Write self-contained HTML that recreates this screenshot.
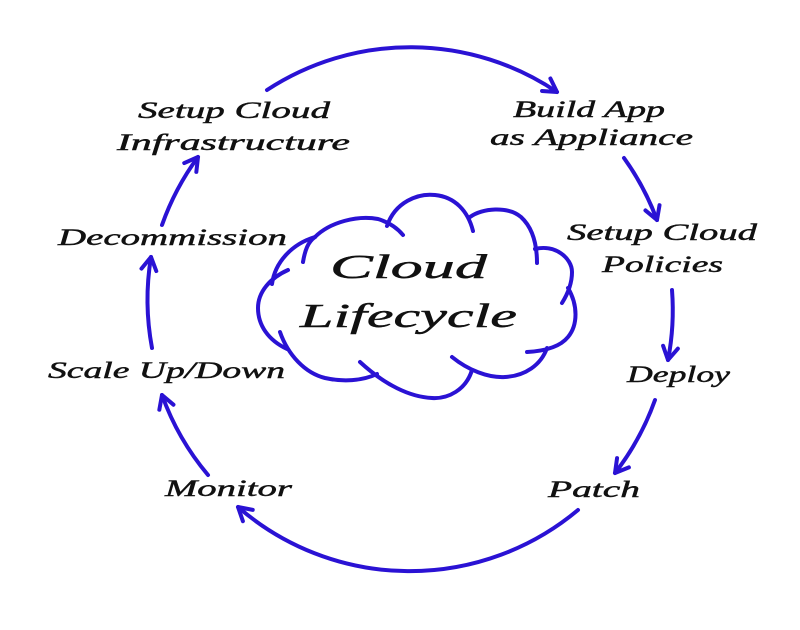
<!DOCTYPE html>
<html>
<head>
<meta charset="utf-8">
<style>
  html, body { margin: 0; padding: 0; background: #ffffff; }
  svg { display: block; }
  text { font-family: "Liberation Serif", "DejaVu Serif", serif; font-style: italic; fill: #111; stroke: #111; stroke-width: 0.45px; }
</style>
</head>
<body>
<svg width="800" height="630" viewBox="0 0 800 630" xmlns="http://www.w3.org/2000/svg">
  <defs>
    <marker id="ah" markerUnits="userSpaceOnUse" markerWidth="30" markerHeight="30" refX="0" refY="0" viewBox="-20 -15 30 30" orient="auto" overflow="visible">
      <path d="M-13,-7.5 L0,0 L-13,7.5" fill="none" stroke="#2a12d4" stroke-width="4" stroke-linecap="round" stroke-linejoin="round"/>
    </marker>
  </defs>
  <rect width="800" height="630" fill="#ffffff"/>

  <!-- circular connectors -->
  <g fill="none" stroke="#2a12d4" stroke-width="4" stroke-linecap="round" marker-end="url(#ah)">
    <path d="M267,90 A262,262 0 0 1 557,92"/>
    <path d="M624,158 A262,262 0 0 1 657,220"/>
    <path d="M672,290 A262,262 0 0 1 668,360"/>
    <path d="M655,400 A262,262 0 0 1 615,473"/>
    <path d="M578,510 A262,262 0 0 1 238,507"/>
    <path d="M208,475 A262,262 0 0 1 162,395"/>
    <path d="M152,348 A262,262 0 0 1 151,257"/>
    <path d="M162,225 A262,262 0 0 1 198,157"/>
  </g>

  <!-- cloud -->
  <g fill="none" stroke="#2a12d4" stroke-width="4" stroke-linecap="round">
    <path d="M387,226 C395,202 418,193 435,195 C455,197 468,211 473,231"/>
    <path d="M470,217 C482,208 508,206 521,217 C534,229 537,248 537,263"/>
    <path d="M535,249 C555,244 572,258 572,272 C572,285 567,295 562,303"/>
    <path d="M568,288 C578,305 578,325 568,337 C560,347 545,351 527,352"/>
    <path d="M547,348 C541,365 525,376 505,377 C488,378 468,370 452,357"/>
    <path d="M472,370 C466,390 448,399 432,398 C410,397 385,385 360,362"/>
    <path d="M377,374 C362,381 343,382 325,378 C305,373 288,355 280,332"/>
    <path d="M288,270 C270,278 258,292 258,308 C258,325 268,340 287,349"/>
    <path d="M272,284 C275,262 292,244 315,237"/>
    <path d="M303,262 C305,250 308,242 315,237 C330,222 358,215 378,219 C391,223 398,229 403,235"/>
  </g>

  <!-- cloud title -->
  <text x="330" y="278" font-size="34" textLength="157" lengthAdjust="spacingAndGlyphs">Cloud</text>
  <text x="300" y="327" font-size="34" textLength="217" lengthAdjust="spacingAndGlyphs">Lifecycle</text>

  <!-- labels -->
  <g font-size="23">
    <text x="138" y="118" textLength="192" lengthAdjust="spacingAndGlyphs">Setup Cloud</text>
    <text x="117" y="150" textLength="233" lengthAdjust="spacingAndGlyphs">Infrastructure</text>
    <text x="513" y="117" textLength="152" lengthAdjust="spacingAndGlyphs">Build App</text>
    <text x="490" y="145" textLength="203" lengthAdjust="spacingAndGlyphs">as Appliance</text>
    <text x="567" y="240" textLength="190" lengthAdjust="spacingAndGlyphs">Setup Cloud</text>
    <text x="602" y="272" textLength="121" lengthAdjust="spacingAndGlyphs">Policies</text>
    <text x="627" y="382" textLength="103" lengthAdjust="spacingAndGlyphs">Deploy</text>
    <text x="548" y="497" textLength="92" lengthAdjust="spacingAndGlyphs">Patch</text>
    <text x="165" y="496" textLength="127" lengthAdjust="spacingAndGlyphs">Monitor</text>
    <text x="48" y="378" textLength="237" lengthAdjust="spacingAndGlyphs">Scale Up/Down</text>
    <text x="58" y="245" textLength="229" lengthAdjust="spacingAndGlyphs">Decommission</text>
  </g>
</svg>
</body>
</html>
